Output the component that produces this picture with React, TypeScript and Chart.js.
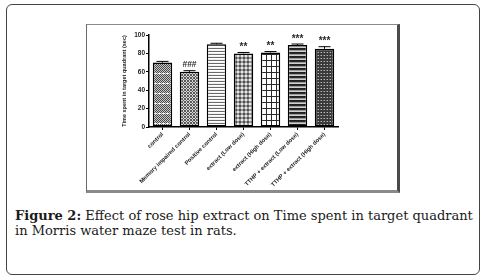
import React, { useEffect, useRef } from "react";
import { Chart, registerables } from "chart.js";

Chart.register(...registerables);

const categories = [
  "control",
  "Memory impaired control",
  "Positive control",
  "extract (Low dose)",
  "extract (High dose)",
  "TTHP + extract (Low dose)",
  "TTHP + extract (High dose)",
];
const meanValues = [70, 60, 90, 80, 81, 89, 85];
const semValues = [1.3, 1.2, 1.0, 1.0, 1.0, 1.2, 2.3];
const significance = ["", "###", "", "**", "**", "***", "***"];
const yTickValues = [0, 20, 40, 60, 80, 100];
const yAxisTitle = "Time spent in target quadrant (sec)";
const captionBold = "Figure 2:";
const captionLine1 = " Effect of rose hip extract on Time spent in target quadrant";
const captionLine2 = "in Morris water maze test in rats.";

function makePattern(kind: number): CanvasPattern | string {
  const t = document.createElement("canvas");
  const c = t.getContext("2d");
  if (!c) return "#888";
  const px = (x: number, y: number, col: string) => {
    c.fillStyle = col;
    c.fillRect(x, y, 1, 1);
  };
  if (kind === 0) {
    t.width = 4; t.height = 10;
    for (let y = 0; y < 10; y++)
      for (let x = 0; x < 4; x++) px(x, y, (x + y) % 2 === 0 ? "#4a4a4a" : "#c8c8c8");
    for (let x = 0; x < 4; x++) px(x, 9, x < 3 ? "#ffffff" : "#888888");
  } else if (kind === 1) {
    t.width = 3; t.height = 3;
    for (let y = 0; y < 3; y++)
      for (let x = 0; x < 3; x++) px(x, y, (x + y) % 2 === 0 ? "#5a5a5a" : "#d6d6d6");
  } else if (kind === 2) {
    t.width = 1; t.height = 3;
    px(0, 0, "#6a6a6a"); px(0, 1, "#ffffff"); px(0, 2, "#f2f2f2");
  } else if (kind === 3) {
    t.width = 4; t.height = 4;
    for (let y = 0; y < 4; y++)
      for (let x = 0; x < 4; x++) {
        const d = Math.abs(x - 1.5) + Math.abs(y - 1.5);
        px(x, y, d < 1.6 ? "#505050" : d < 2.6 ? "#9a9a9a" : "#e8e8e8");
      }
  } else if (kind === 4) {
    t.width = 5; t.height = 6;
    c.fillStyle = "#ffffff"; c.fillRect(0, 0, 5, 6);
    c.fillStyle = "#2a2a2a"; c.fillRect(0, 0, 5, 1); c.fillRect(0, 0, 1, 6);
  } else if (kind === 5) {
    t.width = 1; t.height = 4;
    px(0, 0, "#1e1e1e"); px(0, 1, "#2a2a2a"); px(0, 2, "#9a9a9a"); px(0, 3, "#d0d0d0");
  } else {
    t.width = 3; t.height = 3;
    c.fillStyle = "#3a3a3a"; c.fillRect(0, 0, 3, 3);
    px(1, 1, "#b8b8b8"); px(0, 1, "#707070");
  }
  return c.createPattern(t, "repeat") || "#888";
}

const errorBarPlugin = {
  id: "errorBarsAndStars",
  afterDatasetsDraw(chart: any) {
    const ctx = chart.ctx;
    const meta = chart.getDatasetMeta(0);
    const ys = chart.scales.y;
    meta.data.forEach((bar: any, i: number) => {
      const x = bar.x;
      const top = ys.getPixelForValue(meanValues[i]);
      const errTop = ys.getPixelForValue(meanValues[i] + semValues[i]);
      ctx.save();
      ctx.strokeStyle = "#000";
      ctx.lineWidth = 1;
      ctx.beginPath();
      ctx.moveTo(x, top);
      ctx.lineTo(x, errTop);
      ctx.moveTo(x - 6, errTop);
      ctx.lineTo(x + 6, errTop);
      ctx.stroke();
      if (significance[i]) {
        const isHash = significance[i].startsWith("#");
        ctx.font = isHash
          ? "bold 8.5px 'Liberation Sans', Arial, sans-serif"
          : "bold 10px 'Liberation Sans', Arial, sans-serif";
        ctx.textAlign = "center";
        ctx.textBaseline = "bottom";
        ctx.fillStyle = "#2a2a2a";
        ctx.fillText(significance[i], x, errTop - (isHash ? 2 : 0));
      }
      ctx.restore();
    });
  },
};

function BarChart() {
  const ref = useRef<HTMLCanvasElement | null>(null);
  useEffect(() => {
    if (!ref.current) return;
    const patterns = categories.map((_, i) => makePattern(i));
    const chart = new Chart(ref.current, {
      type: "bar",
      data: {
        labels: categories,
        datasets: [
          {
            data: meanValues,
            backgroundColor: patterns as any,
            borderColor: "#000",
            borderWidth: 1.5,
            borderSkipped: false,
            barPercentage: 0.72,
            categoryPercentage: 1,
          },
        ],
      },
      options: {
        responsive: false,
        animation: false,
        devicePixelRatio: 1,
        layout: { padding: { top: 11, right: 59, left: 0, bottom: 0 } },
        plugins: { legend: { display: false }, tooltip: { enabled: false } },
        scales: {
          x: {
            offset: true,
            grid: {
              offset: false,
              drawOnChartArea: false,
              drawTicks: true,
              tickLength: 3,
              color: "#000",
              lineWidth: 1,
            },
            border: { display: true, color: "#000", width: 1.5 },
            ticks: {
              autoSkip: false,
              minRotation: 45,
              maxRotation: 45,
              padding: 1,
              color: "#222",
              font: { family: "'Liberation Sans', Arial, sans-serif", size: 5.8, weight: "bold" },
            },
            afterFit: (s: any) => {
              s.height = 63;
            },
          },
          y: {
            min: 0,
            max: 100,
            afterBuildTicks: (s: any) => {
              s.ticks = yTickValues.map((v) => ({ value: v }));
            },
            grid: {
              drawOnChartArea: false,
              drawTicks: true,
              tickLength: 3,
              color: "#000",
              lineWidth: 1,
            },
            border: { display: true, color: "#000", width: 1.5 },
            ticks: {
              padding: 1,
              color: "#222",
              font: { family: "'Liberation Sans', Arial, sans-serif", size: 6.5, weight: "bold" },
            },
            title: {
              display: true,
              text: yAxisTitle,
              color: "#222",
              padding: { top: 35, bottom: 0 },
              font: { family: "'Liberation Sans', Arial, sans-serif", size: 5.5, weight: "bold" },
            },
            afterFit: (s: any) => {
              s.width = 63;
            },
          },
        },
      },
      plugins: [errorBarPlugin],
    });
    return () => chart.destroy();
  }, []);
  return <canvas ref={ref} width={311} height={166} style={{ position: "absolute", left: 86, top: 24, width: 311, height: 166 }} />;
}

export default function App() {
  return (
    <div style={{ position: "absolute", left: 0, top: 0, width: 490, height: 280, background: "#fff", overflow: "hidden" }}>
      <div
        style={{
          position: "absolute",
          left: 6,
          top: 4,
          width: 474,
          height: 271,
          border: "1.5px solid #444",
          borderRadius: 6,
          boxSizing: "border-box",
        }}
      />
      <div
        style={{
          position: "absolute",
          left: 86,
          top: 24,
          width: 314,
          height: 169,
          borderTop: "1px solid #8a8a8a",
          borderLeft: "1px solid #6a6a6a",
          borderRight: "3px solid #4a4a4a",
          borderBottom: "3px solid #8a8a8a",
          boxSizing: "border-box",
        }}
      />
      <BarChart />
      <div
        style={{
          position: "absolute",
          left: 15,
          top: 208,
          whiteSpace: "nowrap",
          fontFamily: "'DejaVu Serif', 'Liberation Serif', serif",
          fontSize: 13,
          lineHeight: "15px",
          color: "#1a1a1a",
        }}
      >
        <span style={{ fontWeight: 700 }}>{captionBold}</span>
        {captionLine1}
        <br />
        {captionLine2}
      </div>
    </div>
  );
}
